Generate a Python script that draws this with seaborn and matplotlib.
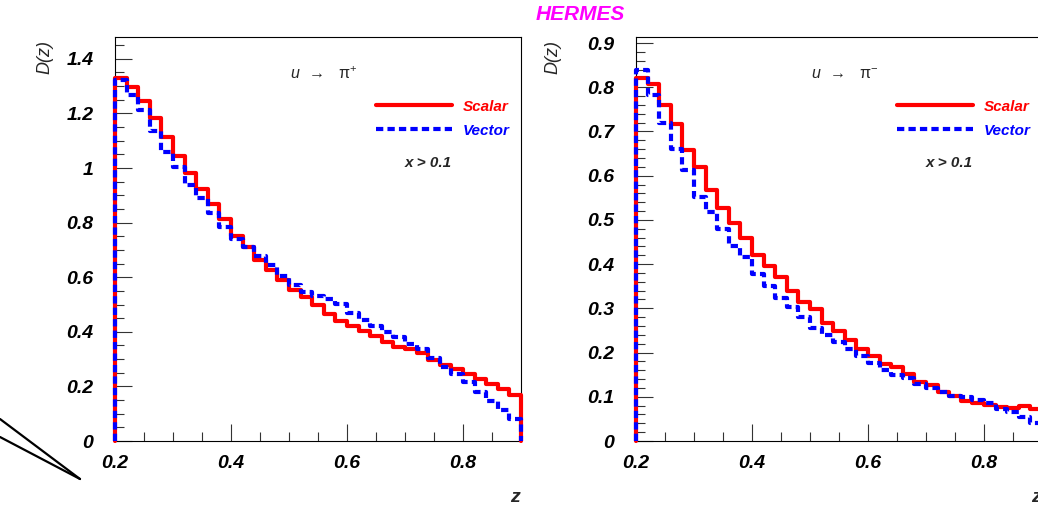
import numpy as np
import pandas as pd
import matplotlib
matplotlib.use("Agg")
import matplotlib.pyplot as plt
import seaborn as sns
from matplotlib.lines import Line2D
from matplotlib.ticker import MultipleLocator, FuncFormatter

# ---------------- data ----------------
z_edges = [0.20, 0.22, 0.24, 0.26, 0.28, 0.30, 0.32, 0.34, 0.36, 0.38,
           0.40, 0.42, 0.44, 0.46, 0.48, 0.50, 0.52, 0.54, 0.56, 0.58,
           0.60, 0.62, 0.64, 0.66, 0.68, 0.70, 0.72, 0.74, 0.76, 0.78,
           0.80, 0.82, 0.84, 0.86, 0.88, 0.90]

piplus_scalar = [1.331, 1.296, 1.246, 1.185, 1.115, 1.044, 0.983, 0.925, 0.868, 0.812,
                 0.752, 0.710, 0.663, 0.627, 0.590, 0.553, 0.528, 0.500, 0.464, 0.441,
                 0.421, 0.403, 0.385, 0.364, 0.346, 0.336, 0.321, 0.297, 0.280, 0.264,
                 0.244, 0.227, 0.208, 0.189, 0.170]
piplus_vector = [1.322, 1.268, 1.213, 1.137, 1.060, 1.005, 0.938, 0.890, 0.835, 0.785,
                 0.739, 0.712, 0.678, 0.645, 0.605, 0.572, 0.545, 0.530, 0.519, 0.501,
                 0.470, 0.442, 0.423, 0.401, 0.382, 0.355, 0.337, 0.303, 0.272, 0.245,
                 0.217, 0.180, 0.148, 0.114, 0.079]

piminus_scalar = [0.822, 0.807, 0.760, 0.716, 0.657, 0.620, 0.567, 0.528, 0.492, 0.458,
                  0.421, 0.396, 0.370, 0.339, 0.315, 0.298, 0.266, 0.249, 0.228, 0.208,
                  0.192, 0.174, 0.168, 0.151, 0.134, 0.126, 0.110, 0.102, 0.090, 0.087,
                  0.081, 0.078, 0.075, 0.079, 0.072]
piminus_vector = [0.839, 0.782, 0.718, 0.660, 0.613, 0.552, 0.517, 0.479, 0.441, 0.415,
                  0.378, 0.351, 0.323, 0.304, 0.280, 0.256, 0.239, 0.225, 0.207, 0.192,
                  0.177, 0.161, 0.150, 0.143, 0.130, 0.119, 0.110, 0.102, 0.100, 0.093,
                  0.087, 0.072, 0.065, 0.054, 0.040]

series_labels = ["Scalar", "Vector"]
panel_titles = [r"$u\;\;\rightarrow\;\;\;\mathrm{\pi}^{+}$",
                r"$u\;\;\rightarrow\;\;\;\mathrm{\pi}^{-}$"]
cut_label = "x > 0.1"
y_label = "D(z)"
x_label = "z"
main_title = "HERMES"

# ---------------- style ----------------
sns.set_style("white")
plt.rcParams["font.family"] = ["Liberation Sans", "DejaVu Sans"]
plt.rcParams["mathtext.fontset"] = "custom"
plt.rcParams["mathtext.rm"] = "Liberation Sans"
plt.rcParams["mathtext.it"] = "Liberation Sans:italic"
plt.rcParams["mathtext.bf"] = "Liberation Sans:bold:italic"

RED = "#ff0000"
BLUE = "#0000ff"

W, H = 1038, 507
fig = plt.figure(figsize=(W / 100, H / 100), dpi=100)
axL = fig.add_axes([115 / W, 66 / H, 406 / W, 404 / H])
axR = fig.add_axes([636 / W, 66 / H, 406 / W, 404 / H])


def step_frame(edges, vals):
    xs = [edges[0]] + list(edges) + [edges[-1]]
    ys = [0.0] + list(vals) + [vals[-1], 0.0]
    return pd.DataFrame({"z": xs, "D": ys})


def draw_panel(ax, scalar, vector, ymax, ymajor, yminor, title):
    sns.lineplot(data=step_frame(z_edges, scalar), x="z", y="D", ax=ax,
                 estimator=None, sort=False, drawstyle="steps-post",
                 color=RED, linewidth=3.0, label=series_labels[0],
                 clip_on=False, zorder=3)
    sns.lineplot(data=step_frame(z_edges, vector), x="z", y="D", ax=ax,
                 estimator=None, sort=False, drawstyle="steps-post",
                 color=BLUE, linewidth=3.0, linestyle=(0, (1.75, 1.0)),
                 label=series_labels[1], clip_on=False, zorder=4)
    ax.set_xlim(z_edges[0], z_edges[-1])
    ax.set_ylim(0, ymax)
    ax.set_xlabel("")
    ax.set_ylabel("")

    ax.xaxis.set_major_locator(MultipleLocator(0.2))
    ax.xaxis.set_minor_locator(MultipleLocator(0.05))
    ax.yaxis.set_major_locator(MultipleLocator(ymajor))
    ax.yaxis.set_minor_locator(MultipleLocator(yminor))
    fmt = FuncFormatter(lambda v, p: "%g" % round(v, 3))
    ax.xaxis.set_major_formatter(fmt)
    ax.yaxis.set_major_formatter(fmt)

    ax.tick_params(which="major", direction="in", length=12.5, width=0.8,
                   color="#333333", bottom=True, left=True, top=False, right=False)
    ax.tick_params(which="minor", direction="in", length=6.5, width=0.8,
                   color="#333333", bottom=True, left=True, top=False, right=False)
    ax.tick_params(axis="y", which="major", pad=15.5)
    ax.tick_params(axis="x", which="major", pad=10)
    for lab in ax.get_xticklabels() + ax.get_yticklabels():
        lab.set_fontsize(14)
        lab.set_fontweight("bold")
        lab.set_fontstyle("italic")
        lab.set_color("black")
    for sp in ax.spines.values():
        sp.set_color("black")
        sp.set_linewidth(0.8)
        sp.set_visible(True)

    ax.legend(loc="center left", bbox_to_anchor=(0.643, 0.798),
              borderpad=0, borderaxespad=0, handlelength=5.0,
              handletextpad=0.7, labelspacing=0.65, frameon=False,
              labelcolor="linecolor",
              prop={"family": "Liberation Sans", "weight": "bold",
                    "style": "italic", "size": 11})

    ax.text(0.43, 0.908, title, transform=ax.transAxes, fontsize=11.5,
            ha="left", va="center")
    ax.text(0.714, 0.688, cut_label, transform=ax.transAxes, fontsize=11,
            fontweight="bold", fontstyle="italic", ha="left", va="center")
    ax.text(0.985, -0.139, x_label, transform=ax.transAxes, fontsize=14,
            fontweight="bold", fontstyle="italic", ha="center", va="center")


draw_panel(axL, piplus_scalar, piplus_vector, 1.480, 0.2, 0.05, panel_titles[0])
draw_panel(axR, piminus_scalar, piminus_vector, 0.9136, 0.1, 0.02, panel_titles[1])

axL.text(-0.172, 0.993, y_label, transform=axL.transAxes, rotation=90,
         fontsize=13, fontstyle="italic", ha="center", va="top")
axR.text(-0.204, 0.993, y_label, transform=axR.transAxes, rotation=90,
         fontsize=13, fontstyle="italic", ha="center", va="top")

fig.text(580 / W, 1 - 14.5 / H, main_title, color="#ff00ff", fontsize=15,
         fontweight="bold", fontstyle="italic", ha="center", va="center")

# decorative wedge lines at the lower-left corner
fig.add_artist(Line2D([0, 80 / W], [1 - 419 / H, 1 - 479 / H], color="black", lw=1.6))
fig.add_artist(Line2D([0, 80 / W], [1 - 437 / H, 1 - 479 / H], color="black", lw=1.6))

fig.savefig("out.png", dpi=100)
